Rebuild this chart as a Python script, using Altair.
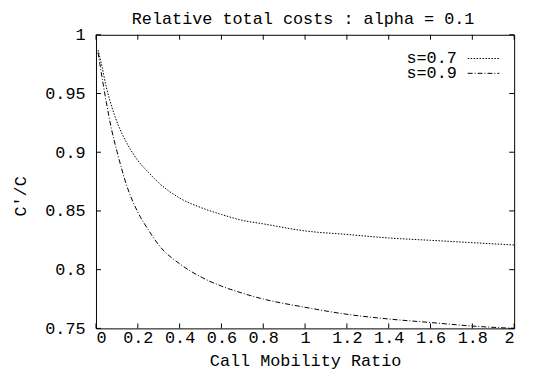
import altair as alt
import pandas as pd

# ---- data ----
ratio = [0.01, 0.025, 0.05, 0.075, 0.1, 0.15, 0.2, 0.25, 0.3, 0.4, 0.5, 0.6,
         0.7, 0.8, 1.0, 1.2, 1.4, 1.6, 1.8, 2.0]
s07 = [0.987, 0.976, 0.955, 0.939, 0.926, 0.907, 0.893, 0.883, 0.874, 0.861,
       0.853, 0.847, 0.842, 0.839, 0.833, 0.830, 0.827, 0.825, 0.823, 0.821]
s09 = [0.985, 0.968, 0.942, 0.919, 0.901, 0.870, 0.849, 0.834, 0.821, 0.805,
       0.794, 0.786, 0.780, 0.775, 0.768, 0.762, 0.758, 0.755, 0.752, 0.750]
series = ["s=0.7", "s=0.9"]
x_ticks = [0, 0.2, 0.4, 0.6, 0.8, 1, 1.2, 1.4, 1.6, 1.8, 2]
y_ticks = [0.75, 0.8, 0.85, 0.9, 0.95, 1]
title_text = ["Relative total costs : alpha = 0.1"]

W, H = 423, 297
FONT = "Liberation Mono"

rows = []
for name, vals in zip(series, [s07, s09]):
    for xv, yv in zip(ratio, vals):
        rows.append({"x": xv, "y": yv, "series": name})
df = pd.DataFrame(rows)
xt = pd.DataFrame({"x": x_ticks})
yt = pd.DataFrame({"y": y_ticks})
leg = pd.DataFrame({"series": series, "idx": list(range(len(series)))})
tdf = pd.DataFrame({"t": title_text})

xscale = alt.Scale(domain=[0, 2], nice=False, zero=False)
yscale = alt.Scale(domain=[0.75, 1], nice=False, zero=False)
dash = alt.Scale(domain=series, range=[[1.5, 1.5], [5, 2, 1, 2]])

xaxis = alt.Axis(values=x_ticks, format="~g", title="Call Mobility Ratio",
                 labelPadding=1, labelBaseline="top",
                 titleY=38, titleBaseline="alphabetic")
X = alt.X("x:Q", scale=xscale, axis=xaxis)

lines = alt.Chart(df).mark_line(color="black", strokeWidth=1, interpolate="monotone").encode(
    x=X,
    y=alt.Y("y:Q", scale=yscale,
            axis=alt.Axis(values=y_ticks, format="~g", title="C'/C",
                          labelPadding=11, labelBaseline="middle",
                          titleX=-76, titleY=163, titleAngle=270,
                          titleBaseline="middle", titleAlign="center")),
    strokeDash=alt.StrokeDash("series:N", scale=dash, legend=None),
    detail="series:N",
)

tick_len = 5
xb = alt.Chart(xt).mark_rule(color="black").encode(
    x=X, y=alt.value(H), y2=alt.value(H - tick_len))
xtop = alt.Chart(xt).mark_rule(color="black").encode(
    x=X, y=alt.value(0), y2=alt.value(tick_len))
yl = alt.Chart(yt).mark_rule(color="black").encode(
    y=alt.Y("y:Q", scale=yscale, axis=None), x=alt.value(0), x2=alt.value(tick_len))
yr = alt.Chart(yt).mark_rule(color="black").encode(
    y=alt.Y("y:Q", scale=yscale, axis=None), x=alt.value(W - tick_len), x2=alt.value(W))

legy = alt.Scale(domain=[0, 1], range=[24, 39])
leg_text = alt.Chart(leg).mark_text(align="right", baseline="middle", font=FONT,
                                    fontSize=17, color="black").encode(
    y=alt.Y("idx:Q", scale=legy, axis=None), x=alt.value(365), text="series:N")
leg_line = alt.Chart(leg).mark_rule(color="black", strokeWidth=1).encode(
    y=alt.Y("idx:Q", scale=legy, axis=None), x=alt.value(376), x2=alt.value(408),
    strokeDash=alt.StrokeDash("series:N", scale=dash, legend=None))

title = alt.Chart(tdf).mark_text(align="center", baseline="alphabetic", font=FONT,
                                 fontSize=17, color="black").encode(
    x=alt.value(W / 2 - 2), y=alt.value(-11), text="t:N")

chart = alt.layer(lines, xb, xtop, yl, yr, leg_text, leg_line, title).resolve_scale(
    y="independent"
).properties(
    width=W, height=H,
    padding={"left": 89, "top": 25, "right": 14, "bottom": 40},
    autosize=alt.AutoSizeParams(type="none"),
).configure_view(stroke="black", strokeWidth=1).configure_axis(
    domain=False, ticks=False, tickSize=0, grid=False,
    labelFont=FONT, labelFontSize=17, labelColor="black",
    titleFont=FONT, titleFontSize=17, titleFontWeight="normal", titleColor="black",
)

chart.save("out.html", embed_options={"renderer": "svg", "actions": False})
